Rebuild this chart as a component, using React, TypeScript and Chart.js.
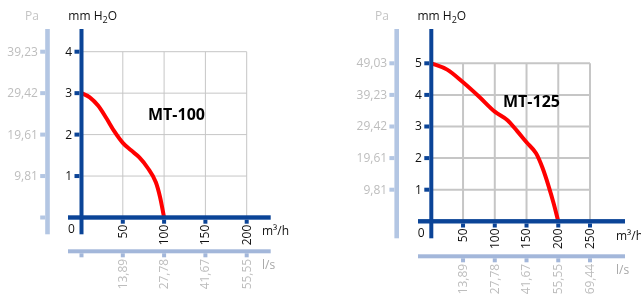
import React, { useEffect, useRef } from "react";
import { Chart, registerables } from "chart.js";

Chart.register(...registerables);

// ---------- MT-100 data ----------
const mt100Flow = [0, 10, 20, 30, 40, 50, 60, 70, 80, 90, 95, 100]; // m³/h
const mt100Pressure = [3.0, 2.9, 2.7, 2.4, 2.07, 1.8, 1.62, 1.45, 1.2, 0.85, 0.5, 0]; // mm H2O
const mt100XTicks = [50, 100, 150, 200];
const mt100YTicks = [1, 2, 3, 4];
const mt100PaLabels = ["9,81", "19,61", "29,42", "39,23"];
const mt100LsLabels = ["13,89", "27,78", "41,67", "55,55"];

// ---------- MT-125 data ----------
const mt125Flow = [0, 25, 50, 75, 100, 120, 135, 150, 165, 175, 185, 193, 200];
const mt125Pressure = [5, 4.8, 4.4, 3.95, 3.47, 3.2, 2.86, 2.5, 2.15, 1.7, 1.1, 0.55, 0];
const mt125XTicks = [50, 100, 150, 200, 250];
const mt125YTicks = [1, 2, 3, 4, 5];
const mt125PaLabels = ["9,81", "19,61", "29,42", "39,23", "49,03"];
const mt125LsLabels = ["13,89", "27,78", "41,67", "55,55", "69,44"];

const DARK = "#0b4497";
const LIGHT_Y = "#b3c6e3";
const LIGHT_X = "#a3b7da";
const GRID = "#c6c6c6";
const GREY_TXT = "#bdbdbd";
const FONT = "'Open Sans', 'DejaVu Sans', sans-serif";

type Spec = {
  title: string;
  flow: number[];
  pressure: number[];
  xTicks: number[];
  yTicks: number[];
  paLabels: string[];
  lsLabels: string[];
  left: number;
  width: number;
  padding: { left: number; right: number; top: number; bottom: number };
  xMax: number;
  yMax: number;
  gridWidth: number;
  axisTop: number;
  yAxisBottom: number;
  xAxisLeft: number;
  xAxisRight: number;
  secYx: number;
  secXy: number;
  secZeroTicks: boolean;
  titleX: number;
  titleY: number;
  unitX: number;
  unitY: number;
  lsY: number;
  zeroX: number;
  zeroY: number;
  mmX: number;
  paX: number;
};

const specs: Spec[] = [
  {
    title: "MT-100",
    flow: mt100Flow,
    pressure: mt100Pressure,
    xTicks: mt100XTicks,
    yTicks: mt100YTicks,
    paLabels: mt100PaLabels,
    lsLabels: mt100LsLabels,
    left: 0,
    width: 320,
    padding: { left: 81.5, right: 73.3, top: 51.7, bottom: 77.5 },
    xMax: 200,
    yMax: 4,
    gridWidth: 1,
    axisTop: 29,
    yAxisBottom: 234.3,
    xAxisLeft: 68,
    xAxisRight: 270.7,
    secYx: 47.5,
    secXy: 251.3,
    secZeroTicks: true,
    titleX: 148,
    titleY: 115,
    unitX: 262,
    unitY: 232,
    lsY: 266,
    zeroX: 68,
    zeroY: 229.3,
    mmX: 68.3,
    paX: 25,
  },
  {
    title: "MT-125",
    flow: mt125Flow,
    pressure: mt125Pressure,
    xTicks: mt125XTicks,
    yTicks: mt125YTicks,
    paLabels: mt125PaLabels,
    lsLabels: mt125LsLabels,
    left: 320,
    width: 321,
    padding: { left: 111.3, right: 51, top: 63.3, bottom: 73.7 },
    xMax: 250,
    yMax: 5,
    gridWidth: 2,
    axisTop: 29,
    yAxisBottom: 238.3,
    xAxisLeft: 98,
    xAxisRight: 305,
    secYx: 76.7,
    secXy: 256.3,
    secZeroTicks: false,
    titleX: 183,
    titleY: 102.5,
    unitX: 296,
    unitY: 236.7,
    lsY: 270.7,
    zeroX: 97.7,
    zeroY: 234,
    mmX: 97.5,
    paX: 55,
  },
];

function makePlugin(s: Spec) {
  return {
    id: "decor",
    beforeDatasetsDraw(chart: any) {
      const ctx: CanvasRenderingContext2D = chart.ctx;
      const xs = chart.scales.x;
      const ys = chart.scales.y;
      const x0 = xs.getPixelForValue(0);
      const xM = xs.getPixelForValue(s.xMax);
      const y0 = ys.getPixelForValue(0);
      const yM = ys.getPixelForValue(s.yMax);
      ctx.save();
      ctx.strokeStyle = GRID;
      ctx.lineWidth = s.gridWidth;
      s.xTicks.forEach((v) => {
        const px = xs.getPixelForValue(v);
        ctx.beginPath();
        ctx.moveTo(px, yM);
        ctx.lineTo(px, y0);
        ctx.stroke();
      });
      s.yTicks.forEach((v) => {
        const py = ys.getPixelForValue(v);
        ctx.beginPath();
        ctx.moveTo(x0, py);
        ctx.lineTo(xM, py);
        ctx.stroke();
      });
      ctx.restore();
    },
    afterDatasetsDraw(chart: any) {
      const ctx: CanvasRenderingContext2D = chart.ctx;
      const xs = chart.scales.x;
      const ys = chart.scales.y;
      const x0 = xs.getPixelForValue(0);
      const y0 = ys.getPixelForValue(0);
      ctx.save();

      // main axes
      const aw = 4;
      const xaw = 4.4;
      ctx.fillStyle = DARK;
      ctx.fillRect(x0 - aw / 2, s.axisTop, aw, s.yAxisBottom - s.axisTop);
      ctx.fillRect(s.xAxisLeft, y0 - xaw / 2, s.xAxisRight - s.xAxisLeft, xaw);
      const axL = x0 - aw / 2;
      const axB = y0 + xaw / 2;
      // main y ticks + labels
      ctx.font = `12px ${FONT}`;
      ctx.textBaseline = "middle";
      s.yTicks.forEach((v) => {
        const py = ys.getPixelForValue(v);
        ctx.fillStyle = DARK;
        ctx.fillRect(axL - 5, py - 2, 5, 4);
        ctx.fillStyle = "#111";
        ctx.textAlign = "right";
        ctx.fillText(String(v), axL - 7.5, py + 0.5);
      });
      // main x ticks + labels
      s.xTicks.forEach((v) => {
        const px = xs.getPixelForValue(v);
        ctx.fillStyle = DARK;
        ctx.fillRect(px - 2, axB, 4, 4);
        ctx.save();
        ctx.translate(px + 0.5, axB + 5);
        ctx.rotate(-Math.PI / 2);
        ctx.fillStyle = "#111";
        ctx.textAlign = "right";
        ctx.fillText(String(v), 0, 0);
        ctx.restore();
      });
      ctx.fillStyle = "#111";
      ctx.textAlign = "left";
      ctx.fillText("0", s.zeroX, s.zeroY);
      ctx.fillText("m³/h", s.unitX, s.unitY);

      // secondary y axis (Pa)
      const sw = 4.6;
      ctx.fillStyle = LIGHT_Y;
      ctx.fillRect(s.secYx - sw / 2, s.axisTop, sw, s.yAxisBottom - s.axisTop);
      const sL = s.secYx - sw / 2;
      const secYVals = s.secZeroTicks ? [0, ...s.yTicks] : s.yTicks;
      secYVals.forEach((v) => {
        const py = ys.getPixelForValue(v);
        ctx.fillStyle = LIGHT_Y;
        ctx.fillRect(sL - 5, py - 2, 5, 4);
      });
      ctx.fillStyle = GREY_TXT;
      ctx.textAlign = "right";
      s.yTicks.forEach((v, i) => {
        const py = ys.getPixelForValue(v);
        ctx.fillText(s.paLabels[i], sL - 7.3, py + 0.5);
      });

      // secondary x axis (l/s)
      const sxw = 4;
      ctx.fillStyle = LIGHT_X;
      ctx.fillRect(s.xAxisLeft, s.secXy - sxw / 2, s.xAxisRight - s.xAxisLeft, sxw);
      const sB = s.secXy + sxw / 2;
      const secXVals = s.secZeroTicks ? [0, ...s.xTicks] : s.xTicks;
      secXVals.forEach((v) => {
        const px = xs.getPixelForValue(v);
        ctx.fillStyle = LIGHT_X;
        ctx.fillRect(px - 2, sB, 4, 4);
      });
      s.xTicks.forEach((v, i) => {
        const px = xs.getPixelForValue(v);
        ctx.save();
        ctx.translate(px + 0.5, sB + 5.5);
        ctx.rotate(-Math.PI / 2);
        ctx.fillStyle = GREY_TXT;
        ctx.textAlign = "right";
        ctx.fillText(s.lsLabels[i], 0, 0);
        ctx.restore();
      });
      ctx.fillStyle = "#a8a8a8";
      ctx.textAlign = "left";
      ctx.fillText("l/s", s.unitX, s.lsY);

      // header labels
      ctx.textBaseline = "alphabetic";
      ctx.fillStyle = "#c4c4c4";
      ctx.fillText("Pa", s.paX, 20);
      ctx.fillStyle = "#111";
      ctx.font = `12px ${FONT}`;
      let cx = s.mmX;
      ctx.fillText("mm H", cx, 19.5);
      cx += ctx.measureText("mm H").width;
      ctx.font = `9px ${FONT}`;
      ctx.fillText("2", cx, 23);
      cx += ctx.measureText("2").width;
      ctx.font = `12px ${FONT}`;
      ctx.fillText("O", cx, 19.5);

      // title
      ctx.font = `bold 16px ${FONT}`;
      ctx.textBaseline = "middle";
      ctx.fillStyle = "#000";
      ctx.fillText(s.title, s.titleX, s.titleY);
      ctx.restore();
    },
  };
}

function Panel({ spec }: { spec: Spec }) {
  const ref = useRef<HTMLCanvasElement>(null);
  useEffect(() => {
    const canvas = ref.current;
    if (!canvas) return;
    const chart = new Chart(canvas, {
      type: "line",
      data: {
        datasets: [
          {
            data: spec.flow.map((f, i) => ({ x: f, y: spec.pressure[i] })),
            borderColor: "#ff0000",
            borderWidth: 4,
            pointRadius: 0,
            cubicInterpolationMode: "monotone",
            fill: false,
            clip: false as any,
          },
        ],
      },
      options: {
        responsive: false,
        animation: false,
        events: [],
        layout: { padding: spec.padding },
        plugins: { legend: { display: false }, tooltip: { enabled: false } },
        scales: {
          x: { type: "linear", min: 0, max: spec.xMax, display: false },
          y: { type: "linear", min: 0, max: spec.yMax, display: false },
        },
      },
      plugins: [makePlugin(spec)],
    });
    return () => chart.destroy();
  }, [spec]);
  return (
    <canvas
      ref={ref}
      width={spec.width}
      height={295}
      style={{ position: "absolute", left: spec.left, top: 0, width: spec.width, height: 295 }}
    />
  );
}

export default function App() {
  return (
    <div style={{ position: "absolute", left: 0, top: 0, width: 641, height: 295, background: "#fff" }}>
      {specs.map((s) => (
        <Panel key={s.title} spec={s} />
      ))}
    </div>
  );
}
